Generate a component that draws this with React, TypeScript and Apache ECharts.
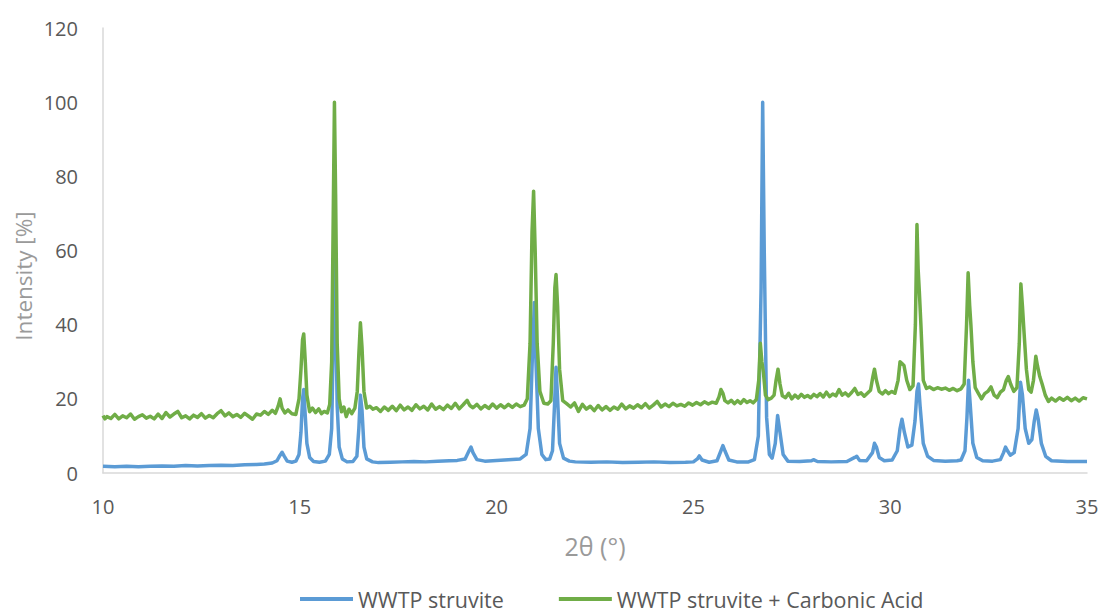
import React, { useEffect, useRef } from "react";
import * as echarts from "echarts";

const seriesNames = ["WWTP struvite", "WWTP struvite + Carbonic Acid"];
const xTicks = { min: 10, max: 35, interval: 5 };
const yTicks = { min: 0, max: 120, interval: 20 };

const struvite: [number, number][] = [
  [10.0, 1.8], [10.3, 1.7], [10.6, 1.8], [10.9, 1.7], [11.2, 1.8], [11.5, 1.9], [11.8, 1.8],
  [12.1, 2.0], [12.4, 1.9], [12.7, 2.0], [13.0, 2.1], [13.3, 2.0], [13.6, 2.2], [13.9, 2.3],
  [14.1, 2.4], [14.3, 2.7], [14.42, 3.3], [14.5, 4.8], [14.55, 5.6], [14.6, 4.6], [14.68, 3.2],
  [14.8, 2.9], [14.9, 3.2], [14.98, 5], [15.03, 11], [15.07, 20], [15.1, 22.5], [15.13, 17],
  [15.18, 8], [15.25, 4.2], [15.35, 3.1], [15.5, 2.9], [15.65, 3.2], [15.75, 5], [15.81, 12],
  [15.85, 35], [15.88, 60], [15.91, 45], [15.95, 18], [16.0, 7], [16.08, 3.8], [16.2, 3],
  [16.35, 3.1], [16.45, 4.5], [16.5, 12], [16.54, 21], [16.58, 17], [16.63, 7], [16.7, 3.8],
  [16.85, 3], [17.0, 2.8], [17.3, 2.9], [17.6, 3.0], [17.9, 3.1], [18.2, 3.0], [18.5, 3.2],
  [18.8, 3.3], [19.0, 3.4], [19.2, 3.8], [19.3, 6], [19.35, 7], [19.4, 5.5], [19.5, 3.6],
  [19.7, 3.2], [20.0, 3.4], [20.3, 3.6], [20.6, 3.8], [20.75, 5], [20.85, 12], [20.92, 35],
  [20.96, 46], [21.0, 30], [21.06, 12], [21.15, 5], [21.25, 3.6], [21.35, 3.8], [21.42, 6],
  [21.47, 18], [21.51, 28.5], [21.55, 20], [21.6, 8], [21.7, 4], [21.85, 3.2], [22.0, 3.0],
  [22.4, 2.9], [22.8, 3.0], [23.2, 2.8], [23.6, 2.9], [24.0, 3.0], [24.4, 2.8], [24.8, 2.9],
  [25.0, 3.0], [25.1, 3.8], [25.15, 4.6], [25.22, 3.5], [25.4, 2.9], [25.6, 3.3], [25.7, 6],
  [25.75, 7.4], [25.8, 6], [25.9, 3.5], [26.1, 3.0], [26.4, 3.0], [26.55, 3.6], [26.65, 10],
  [26.72, 50], [26.76, 100], [26.8, 60], [26.86, 15], [26.93, 5], [27.0, 4], [27.08, 8],
  [27.14, 15.5], [27.2, 11], [27.28, 5], [27.4, 3.2], [27.7, 3.1], [28.0, 3.3], [28.05, 3.6],
  [28.15, 3.1], [28.5, 3.0], [28.9, 3.1], [29.1, 4.2], [29.15, 4.5], [29.22, 3.4], [29.4, 3.3],
  [29.55, 5.5], [29.6, 8], [29.65, 7], [29.72, 4.2], [29.85, 3.3], [30.05, 3.5], [30.18, 6],
  [30.25, 12], [30.3, 14.5], [30.36, 11], [30.45, 7], [30.55, 7.5], [30.63, 14], [30.68, 22],
  [30.72, 24], [30.76, 18], [30.84, 8], [30.95, 4.5], [31.1, 3.4], [31.4, 3.2], [31.7, 3.3],
  [31.8, 3.5], [31.9, 6], [31.95, 15], [31.99, 25], [32.03, 19], [32.1, 8], [32.2, 4.2],
  [32.35, 3.3], [32.6, 3.2], [32.8, 3.6], [32.88, 5.5], [32.93, 7], [32.98, 6], [33.05, 4.8],
  [33.15, 5.5], [33.25, 12], [33.31, 24.5], [33.36, 21], [33.43, 12], [33.52, 8], [33.6, 9],
  [33.66, 14], [33.71, 17], [33.76, 14.5], [33.84, 8], [33.95, 4.5], [34.1, 3.3], [34.5, 3.1],
  [35.0, 3.1],
];

const struviteCarbonic: [number, number][] = [
  [10.0, 15.5], [10.05, 14.6], [10.1, 15.2], [10.2, 14.7], [10.3, 15.8], [10.4, 14.6], [10.5, 15.4],
  [10.6, 14.9], [10.7, 15.9], [10.8, 14.5], [10.9, 15.2], [11.0, 15.7], [11.1, 14.8], [11.2, 15.3],
  [11.3, 14.6], [11.4, 15.9], [11.5, 14.7], [11.6, 16.3], [11.7, 15.1], [11.8, 15.9], [11.9, 16.6],
  [12.0, 14.9], [12.1, 15.4], [12.2, 14.6], [12.3, 15.6], [12.4, 15.0], [12.5, 16.0], [12.6, 14.8],
  [12.7, 15.5], [12.8, 14.9], [12.9, 16.0], [13.0, 16.8], [13.1, 15.4], [13.2, 16.2], [13.3, 15.2],
  [13.4, 15.8], [13.5, 15.0], [13.6, 16.1], [13.7, 15.3], [13.8, 14.5], [13.9, 15.9], [14.0, 15.6],
  [14.1, 16.6], [14.2, 15.8], [14.3, 16.9], [14.38, 16.1], [14.45, 18], [14.5, 20], [14.55, 17.5],
  [14.62, 16.2], [14.7, 17.0], [14.8, 16.0], [14.9, 15.8], [14.98, 20], [15.03, 28], [15.07, 36],
  [15.1, 37.5], [15.14, 30], [15.18, 21], [15.25, 16.5], [15.32, 17.5], [15.4, 16.3], [15.48, 17.3],
  [15.55, 16.0], [15.62, 16.6], [15.7, 16.2], [15.76, 18.5], [15.81, 30], [15.85, 70], [15.88, 100],
  [15.91, 75], [15.95, 35], [16.0, 20], [16.06, 16.5], [16.12, 17.8], [16.18, 15.2], [16.25, 17.2],
  [16.32, 16.0], [16.4, 17.5], [16.46, 22], [16.5, 32], [16.54, 40.5], [16.58, 34], [16.63, 22],
  [16.7, 17.5], [16.78, 18], [16.86, 17.2], [16.95, 17.6], [17.05, 16.6], [17.15, 17.8], [17.25, 16.9],
  [17.35, 18.0], [17.45, 16.8], [17.55, 18.3], [17.65, 17.0], [17.75, 17.8], [17.85, 16.9], [17.95, 18.4],
  [18.05, 17.3], [18.15, 18.0], [18.25, 17.0], [18.35, 18.6], [18.45, 17.2], [18.55, 17.9], [18.65, 17.1],
  [18.75, 18.3], [18.85, 17.4], [18.95, 18.8], [19.05, 17.3], [19.15, 18.4], [19.25, 19.6], [19.32, 18.2],
  [19.4, 17.6], [19.5, 18.5], [19.6, 17.3], [19.7, 18.2], [19.8, 17.4], [19.9, 18.6], [20.0, 17.5],
  [20.1, 18.4], [20.2, 17.6], [20.3, 18.5], [20.4, 17.7], [20.5, 18.6], [20.6, 17.9], [20.7, 18.3],
  [20.78, 20], [20.85, 35], [20.9, 65], [20.94, 76], [20.98, 60], [21.03, 35], [21.1, 22], [21.2, 18.8],
  [21.3, 18.6], [21.38, 19.5], [21.44, 35], [21.48, 50], [21.51, 53.5], [21.55, 45], [21.6, 28],
  [21.68, 19.5], [21.78, 18.7], [21.88, 17.8], [21.98, 18.9], [22.08, 16.6], [22.18, 18.5], [22.28, 17.2],
  [22.38, 18.0], [22.48, 16.8], [22.58, 18.2], [22.68, 17.0], [22.78, 17.9], [22.88, 16.9], [22.98, 17.8],
  [23.08, 17.2], [23.18, 18.6], [23.28, 17.3], [23.38, 18.1], [23.48, 17.5], [23.58, 18.4], [23.68, 17.6],
  [23.78, 18.7], [23.88, 17.5], [23.98, 18.3], [24.08, 19.3], [24.18, 17.8], [24.28, 18.6], [24.38, 17.9],
  [24.48, 18.8], [24.58, 18.1], [24.68, 18.5], [24.78, 18.0], [24.88, 18.9], [24.98, 18.3], [25.08, 19.0],
  [25.18, 18.4], [25.28, 19.2], [25.38, 18.6], [25.48, 19.1], [25.58, 18.8], [25.65, 20.5], [25.7, 22.5],
  [25.75, 21.5], [25.8, 19.5], [25.88, 18.9], [25.96, 19.6], [26.04, 18.7], [26.12, 19.5], [26.2, 18.8],
  [26.28, 19.8], [26.36, 19.0], [26.44, 19.5], [26.52, 18.9], [26.6, 19.8], [26.66, 25], [26.7, 35],
  [26.74, 30], [26.78, 27], [26.83, 21], [26.9, 19.8], [26.98, 20.2], [27.05, 21], [27.1, 25], [27.15, 28],
  [27.2, 24], [27.26, 20.8], [27.34, 20.3], [27.42, 21.5], [27.5, 20.0], [27.58, 21.0], [27.66, 20.2],
  [27.74, 21.2], [27.82, 20.4], [27.9, 20.9], [27.98, 20.3], [28.06, 21.2], [28.14, 20.6], [28.22, 21.4],
  [28.3, 20.5], [28.38, 21.8], [28.46, 20.6], [28.54, 21.3], [28.62, 20.8], [28.7, 22.5], [28.78, 21.0],
  [28.86, 21.6], [28.94, 20.8], [29.02, 21.7], [29.1, 22.8], [29.18, 21.2], [29.26, 21.6], [29.34, 20.7],
  [29.42, 21.5], [29.5, 22.3], [29.56, 26], [29.6, 28], [29.65, 25], [29.72, 22], [29.8, 21.3],
  [29.88, 22.2], [29.96, 21.4], [30.04, 22.0], [30.12, 21.5], [30.2, 25], [30.25, 30], [30.3, 29.5],
  [30.35, 29], [30.42, 25], [30.5, 22.5], [30.58, 23.5], [30.64, 40], [30.68, 67], [30.71, 55],
  [30.74, 49], [30.78, 40], [30.84, 25], [30.92, 22.8], [31.0, 23.2], [31.1, 22.5], [31.2, 23.0],
  [31.3, 22.6], [31.4, 22.9], [31.5, 22.3], [31.6, 22.8], [31.7, 22.2], [31.8, 22.7], [31.88, 24],
  [31.94, 40], [31.98, 54], [32.02, 45], [32.05, 40], [32.1, 30], [32.16, 23], [32.24, 21.5],
  [32.32, 20.0], [32.4, 21.4], [32.48, 22.0], [32.56, 23.2], [32.64, 21.0], [32.72, 20.3], [32.8, 21.8],
  [32.88, 22.5], [32.95, 25], [33.0, 26], [33.06, 24], [33.14, 22], [33.22, 23], [33.28, 35],
  [33.32, 51], [33.36, 45], [33.4, 38], [33.46, 28], [33.52, 22.5], [33.58, 21.8], [33.64, 25],
  [33.7, 31.5], [33.74, 29], [33.8, 26], [33.86, 24], [33.94, 21], [34.02, 19.3], [34.1, 20.2],
  [34.2, 19.4], [34.3, 20.3], [34.4, 19.6], [34.5, 20.4], [34.6, 19.5], [34.7, 20.2], [34.8, 19.4],
  [34.9, 20.3], [35.0, 20.0],
];

const FONT = "'Open Sans', 'Noto Sans', sans-serif";

export default function App() {
  const ref = useRef<HTMLDivElement>(null);
  useEffect(() => {
    if (!ref.current) return;
    const chart = echarts.init(ref.current, null, { renderer: "svg" });
    chart.setOption({
      animation: false,
      backgroundColor: "#ffffff",
      textStyle: { fontFamily: FONT },
      grid: { left: 103, right: 19, top: 28, bottom: 139, containLabel: false },
      legend: {
        top: 588,
        left: 300,
        padding: 0,
        itemWidth: 53,
        itemHeight: 4,
        itemGap: 55,
        icon: "rect",
        textStyle: { color: "#595959", fontSize: 21.5, fontFamily: FONT },
        data: seriesNames,
      },
      xAxis: {
        type: "value",
        min: xTicks.min,
        max: xTicks.max,
        interval: xTicks.interval,
        name: "2θ (°)",
        nameLocation: "middle",
        nameGap: 60,
        nameTextStyle: { color: "#9a9a9a", fontSize: 25, fontFamily: FONT },
        axisLine: { show: true, lineStyle: { color: "#d9d9d9", width: 1.5 } },
        axisTick: { show: false },
        splitLine: { show: false },
        axisLabel: { color: "#595959", fontSize: 20, margin: 23, fontFamily: FONT },
      },
      yAxis: {
        type: "value",
        min: yTicks.min,
        max: yTicks.max,
        interval: yTicks.interval,
        axisLine: { show: true, lineStyle: { color: "#d9d9d9", width: 1.5 } },
        axisTick: { show: false },
        splitLine: { show: false },
        axisLabel: { color: "#595959", fontSize: 20, margin: 25, fontFamily: FONT },
      },
      graphic: [
        {
          type: "text",
          x: 23,
          y: 276,
          rotation: Math.PI / 2,
          style: {
            text: "Intensity [%]",
            fill: "#9a9a9a",
            fontSize: 22.5,
            fontFamily: FONT,
            align: "center",
            verticalAlign: "middle",
          },
        },
      ],
      series: [
        {
          name: seriesNames[0],
          type: "line",
          data: struvite,
          showSymbol: false,
          symbol: "none",
          color: "#5b9bd5",
          lineStyle: { width: 3.5, color: "#5b9bd5", join: "round" },
          z: 2,
        },
        {
          name: seriesNames[1],
          type: "line",
          data: struviteCarbonic,
          showSymbol: false,
          symbol: "none",
          color: "#70ad47",
          lineStyle: { width: 3.5, color: "#70ad47", join: "round" },
          z: 3,
        },
      ],
    });
    return () => chart.dispose();
  }, []);
  return (
    <div
      ref={ref}
      style={{ position: "fixed", left: 0, top: 0, width: 1106, height: 612 }}
    />
  );
}
